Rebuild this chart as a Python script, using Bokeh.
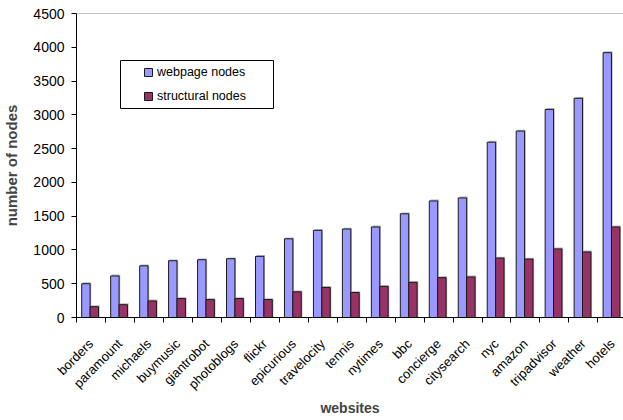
import math
from bokeh.plotting import figure
from bokeh.models import (Range1d, FixedTicker, Legend, LegendItem, Span,
                          BoxAnnotation, ColumnDataSource)
from bokeh.embed import file_html
from bokeh.resources import INLINE

websites = ["borders", "paramount", "michaels", "buymusic", "giantrobot",
            "photoblogs", "flickr", "epicurious", "travelocity", "tennis",
            "nytimes", "bbc", "concierge", "citysearch", "nyc", "amazon",
            "tripadvisor", "weather", "hotels"]
webpage_nodes = [500, 615, 765, 840, 855, 870, 905, 1165, 1290, 1310,
                 1340, 1535, 1725, 1770, 2595, 2760, 3080, 3245, 3920]
structural_nodes = [160, 190, 245, 280, 265, 280, 265, 380, 445, 370,
                    460, 520, 590, 600, 880, 865, 1015, 970, 1340]
y_ticks = [0, 500, 1000, 1500, 2000, 2500, 3000, 3500, 4000, 4500]

FONT = "Liberation Sans"
n = len(websites)
idx = list(range(n))

src = ColumnDataSource(dict(
    x_web=[i + 0.325 for i in idx],
    x_str=[i + 0.615 for i in idx],
    xs_web=[i + 0.325 + 0.04 for i in idx],
    xs_str=[i + 0.615 + 0.04 for i in idx],
    web=webpage_nodes,
    struct=structural_nodes,
    ws=[v + 20 for v in webpage_nodes],
    ss=[v + 20 for v in structural_nodes],
))

p = figure(width=623, height=420, x_range=Range1d(0, 18.885),
           y_range=Range1d(0, 4500), output_backend="svg",
           toolbar_location=None, min_border_left=74, min_border_right=0,
           min_border_top=13, min_border_bottom=103)
p.outline_line_color = None
p.xgrid.visible = False
p.ygrid.visible = False
p.background_fill_color = "white"

# soft shadows
p.vbar(x="xs_web", top="ws", width=0.29, source=src,
       fill_color="#b8b8b8", line_color=None)
r1 = p.vbar(x="x_web", top="web", width=0.29, source=src,
            fill_color="#9999FF", line_color="#1a1a1a", line_width=1)
p.vbar(x="xs_str", top="ss", width=0.29, source=src,
       fill_color="#b8b8b8", line_color=None)
r2 = p.vbar(x="x_str", top="struct", width=0.29, source=src,
            fill_color="#993366", line_color="#1a1a1a", line_width=1)

p.add_layout(Span(location=4500, dimension="width", line_color="#909090",
                  line_width=1))

# y axis
p.yaxis.ticker = FixedTicker(ticks=y_ticks)
p.yaxis.axis_label = "number of nodes"
p.yaxis.axis_label_text_font = FONT
p.yaxis.axis_label_text_font_style = "bold"
p.yaxis.axis_label_text_font_size = "15px"
p.yaxis.axis_label_standoff = 10
p.yaxis.major_label_text_font = FONT
p.yaxis.major_label_text_font_size = "14px"
p.yaxis.major_label_text_color = "black"
p.yaxis.major_label_standoff = 7
p.yaxis.major_tick_out = 5
p.yaxis.major_tick_in = 0
p.yaxis.minor_tick_out = 0
p.yaxis.minor_tick_in = 0
p.yaxis.axis_line_color = "black"
p.yaxis.major_tick_line_color = "black"

# x axis
centers = [i + 0.5 for i in idx]
bounds = list(range(n + 1))
p.xaxis.ticker = FixedTicker(ticks=centers, minor_ticks=bounds)
p.xaxis.major_label_overrides = {c: w for c, w in zip(centers, websites)}
p.xaxis.major_label_orientation = math.pi / 4
p.xaxis.major_tick_out = 0
p.xaxis.major_tick_in = 0
p.xaxis.minor_tick_out = 5
p.xaxis.minor_tick_in = 0
p.xaxis.minor_tick_line_color = "black"
p.xaxis.axis_line_color = "black"
p.xaxis.major_label_text_font = FONT
p.xaxis.major_label_text_font_size = "13px"
p.xaxis.major_label_text_color = "black"
p.xaxis.major_label_standoff = 19
p.xaxis.axis_label = "websites"
p.xaxis.axis_label_text_font = FONT
p.xaxis.axis_label_text_font_style = "bold"
p.xaxis.axis_label_text_font_size = "14px"
p.xaxis.axis_label_standoff = 0

# legend
box = BoxAnnotation(left=120, right=273, top=60, bottom=108,
                    left_units="canvas", right_units="canvas",
                    top_units="canvas", bottom_units="canvas",
                    fill_alpha=0, line_color="black", line_width=1,
                    line_alpha=1)
p.add_layout(box)

legend = Legend(items=[LegendItem(label="webpage nodes", renderers=[r1]),
                       LegendItem(label="structural nodes", renderers=[r2])],
                location=(67, 214), padding=0, margin=0, spacing=10,
                glyph_width=10, glyph_height=10, label_height=10,
                label_standoff=4, border_line_color=None,
                background_fill_alpha=0,
                label_text_font=FONT, label_text_font_size="12.5px",
                label_text_color="black")
p.add_layout(legend, "center")

open("out.html", "w").write(file_html(p, INLINE))
